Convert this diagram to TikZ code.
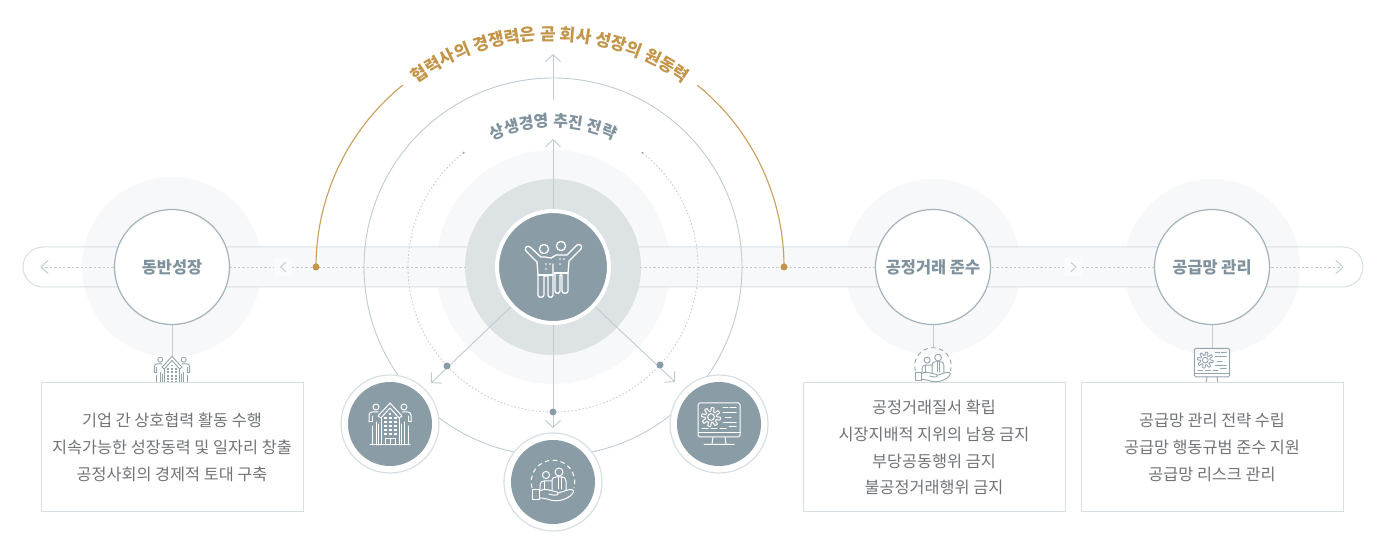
\documentclass[tikz,border=0pt]{standalone}
\usepackage{fontspec}
\setmainfont{Noto Sans CJK KR}
\usetikzlibrary{arrows.meta,decorations.text}
\definecolor{slate}{HTML}{8A9CA6}
\definecolor{ringa}{HTML}{F6F8F9}
\definecolor{ringb}{HTML}{DDE2E4}
\definecolor{bandline}{HTML}{D8DFE3}
\definecolor{thin}{HTML}{C0CCD2}
\definecolor{circ}{HTML}{A3B3BB}
\definecolor{gold}{HTML}{C49548}
\definecolor{goldline}{HTML}{C99F5A}
\definecolor{labelc}{HTML}{7F929D}
\definecolor{body}{HTML}{717477}
\definecolor{dashc}{HTML}{C3CCD1}
\definecolor{smallicon}{HTML}{93A4AE}
\tikzset{
  x=1pt,y=1pt,
  conn/.style={draw=thin,line width=0.9pt},
  arrowed/.style={conn,-{Straight Barb[length=7pt,width=15pt,line width=0.9pt]}},
  dashline/.style={draw=dashc,line width=0.8pt,dash pattern=on 2.4pt off 2pt},
  dotline/.style={draw=thin,line width=0.8pt,dash pattern=on 1.6pt off 2pt},
  dotn/.style={circle,fill=slate,inner sep=0pt,minimum size=7pt},
  golddot/.style={circle,fill=gold,inner sep=0pt,minimum size=7pt},
  topic/.style={circle,fill=white,draw=circ,line width=1.2pt,inner sep=0pt,minimum size=115pt,
    text=labelc,font=\bfseries\fontsize{16.4}{18}\selectfont},
  satout/.style={circle,fill=white,draw=bandline,line width=1.2pt,inner sep=0pt,minimum size=98pt},
  satin/.style={circle,fill=slate,inner sep=0pt,minimum size=84pt},
  infobox/.style={draw=bandline,line width=1pt,fill=white,minimum width=262pt,minimum height=129pt,
    inner sep=0pt,align=center,text=body,font=\fontsize{16.3}{26.7}\selectfont},
  chev/.style={draw=thin,line width=0.9pt},
  pics/people/.style={code={
    \begin{scope}[yscale=-1,line join=round,line cap=round]
      \draw (-9,-18) circle[radius=4.6];
      \draw (8,-21) circle[radius=4.6];
      \draw (-2,-9) -- (-8,-10) -- (-12,-10) -- (-23,-20) .. controls (-26,-22) and (-29,-19) .. (-27,-16)
        -- (-16,-5) -- (-15,8) -- (-15,28) .. controls (-15,31) and (-9,31) .. (-9,28) -- (-9,9) -- (-5,9) -- (-5,28)
        .. controls (-5,31) and (0,31) .. (0,28) -- (0,-3);
      \draw (-15,8) -- (0,8);
      \draw (-2,-9) -- (3,-12) -- (14,-12) -- (24,-22) .. controls (27,-24) and (30,-20) .. (28,-18)
        -- (16,-6) -- (15,6) -- (15,24) .. controls (15,27) and (9,27) .. (9,24) -- (9,8) -- (7,8) -- (7,24)
        .. controls (7,27) and (2,27) .. (2,24) -- (2,6);
      \draw (1,6) -- (15,6);
      \foreach \p in {(-7,-3),(-7,2),(7,-8),(7,-3),(-3,-3),(11,-8)} \fill \p circle[radius=0.8];
    \end{scope}}},
  pics/building/.style={code={
    \begin{scope}[yscale=-1,line join=round,line cap=round]
      \draw (-14,-17) circle[radius=3];
      \draw (14,-17) circle[radius=3];
      \draw (0,-21) -- (-12,-8) -- (-9,-6) -- (0,-16) -- (9,-6) -- (12,-8) -- cycle;
      \draw (-9,-6) -- (-9,21) (9,-6) -- (9,21);
      \draw (-21,-2) -- (-21,-9) .. controls (-21,-11) and (-19,-12) .. (-18,-12) -- (-12,-12);
      \draw (21,-2) -- (21,-9) .. controls (21,-11) and (19,-12) .. (18,-12) -- (12,-12);
      \draw (-21,-2) -- (-18,-2) -- (-18,-8) (21,-2) -- (18,-2) -- (18,-8);
      \draw (-18,2) -- (-18,21) (-14,-2) -- (-14,21) (-11.5,0) -- (-11.5,21);
      \draw (18,2) -- (18,21) (14,-2) -- (14,21) (11.5,0) -- (11.5,21);
      \draw (-20,21) -- (20,21);
      \draw (-5,21) -- (-5,15) -- (5,15) -- (5,21) (0,15) -- (0,21);
      \foreach \r in {-6,-2,2,6,10} \foreach \c in {-5,0,5}
        \fill (\c-1.5,\r-1.3) rectangle (\c+1.5,\r+1.3);
      \fill (-1,-11) rectangle (1,-9);
    \end{scope}}},
  pics/handcare/.style={code={
    \begin{scope}[yscale=-1,line join=round,line cap=round]
      \draw[line cap=butt,dash pattern=on 4.5pt off 3.5pt] (-21,6) arc[start angle=164,end angle=376,radius=21.8];
      \draw (-7,-7) circle[radius=3.6];
      \draw (6,-10) circle[radius=4];
      \draw (-13,7) -- (-13,3) .. controls (-13,0) and (-11,-1) .. (-9,-1) -- (-1,-1);
      \draw (-1,8) -- (-1,-2) .. controls (-1,-4) and (1,-5) .. (3,-5) -- (9,-5) .. controls (11,-5) and (13,-4) .. (13,-1) -- (13,8);
      \draw (-9,-1) -- (-9,7) (5,-5) -- (5,7) (8,-5) -- (8,7);
      \draw (-21,8) rectangle (-14,17.5);
      \draw (-14,9) .. controls (-8,6) and (-4,8) .. (0,9) .. controls (4,10) and (6,10) .. (5,12) .. controls (4,14) and (-1,13) .. (-4,12);
      \draw (5,11) .. controls (10,10) and (17,6) .. (20,8) .. controls (22,10) and (18,14) .. (14,16)
        .. controls (6,20) and (-1,19) .. (-6,17) .. controls (-9,16) and (-12,16) .. (-14,16);
    \end{scope}}},
  pics/monitor/.style={code={
    \begin{scope}[yscale=-1,line join=round,line cap=round]
      \draw[rounded corners=1.5pt] (-21,-21) rectangle (21,13);
      \draw (-21,9) -- (21,9);
      \draw (-6,13) -- (-7,20) (6,13) -- (7,20) (-15,20.5) -- (15,20.5);
      \draw[shift={(-8,-7)}] plot[samples=121,domain=0:360,smooth] (\x:{7.6+1.9*max(min(2.5*sin(8*\x),1),-1)}) -- cycle;
      \draw (-8,-7) circle[radius=3.4];
      \draw (4,-16) -- (9,-16) (11,-16) -- (17,-16);
      \draw (4,-11) -- (17,-11);
      \draw (6,-6) -- (12,-6);
      \draw (4,-1) -- (17,-1);
      \draw (-17,5) -- (-11,5) (-8,5) -- (-2,5) (1,5) -- (7,5);
      \draw (10,3) -- (17,3);
    \end{scope}}}
}
\begin{document}
\begin{tikzpicture}
\useasboundingbox (0,0) rectangle (1384,546);
\fill[white] (0,0) rectangle (1384,546);
\coordinate (ctr) at (553,279);
\coordinate (goldc) at (550,279);
% rings under the band
\fill[ringa] (ctr) circle[radius=117];
\fill[ringa] (172,279) circle[radius=90];
\fill[ringa] (933,279) circle[radius=88];
\fill[ringa] (1212,279) circle[radius=88];
% band
\fill[ringa] (172,259) rectangle (1212,299);
\draw[draw=bandline,line width=1pt,rounded corners=20pt] (23,259) rectangle (1363,299);
\fill[ringb] (ctr) circle[radius=88];
% big circles
\draw[conn] (ctr) circle[radius=189];
\draw[dotline] (ctr) ++(128:145) arc[start angle=128,end angle=412,radius=145];
\fill[slate] (ctr) ++(128:145) circle[radius=1];
\fill[slate] (ctr) ++(52:145) circle[radius=1];
% dashed axis
\coordinate (endL) at (41,279);
\coordinate (endR) at (1343,279);
\node[fill=white,fill opacity=.55,minimum size=18pt,inner sep=0pt] (stopL) at (283,279) {};
\node[fill=white,fill opacity=.55,minimum size=18pt,inner sep=0pt] (stopR) at (1073,279) {};
\coordinate (gapA) at (292,279);
\coordinate (gapB) at (466,279);
\coordinate (gapC) at (640,279);
\coordinate (gapD) at (1064,279);
\coordinate (gapE) at (1082,279);
\coordinate (gapF) at (274,279);
\draw[dashline] (endL) -- (172,279);
\draw[dashline] (172,279) -- (gapF);
\draw[dashline] (gapA) -- (gapB);
\draw[dashline] (gapC) -- (gapD);
\draw[dashline] (gapE) -- (endR);
\draw[chev,line cap=round] (48,285.5) -- (41,279) -- (48,272.5);
\draw[chev,line cap=round] (285.5,283.5) -- (280.5,279) -- (285.5,274.5);
\draw[chev,line cap=round] (1071,283.5) -- (1076,279) -- (1071,274.5);
\draw[chev,line cap=round] (1336,285.5) -- (1343,279) -- (1336,272.5);
% gold arc
\draw[draw=goldline,line width=1.1pt] (316,279) arc[start angle=180,end angle=129,radius=234];
\draw[draw=goldline,line width=1.1pt] (784,279) arc[start angle=0,end angle=51,radius=234];
\node[golddot] (gl) at (316,279) {};
\node[golddot] (gr) at (784,279) {};
\path[decorate,decoration={text along path,text align=center,
  text={|\bfseries\fontsize{17}{18}\selectfont\color{gold}|협력사의 경쟁력은 곧 회사 성장의 원동력}}]
  (goldc) ++(145:227) arc[start angle=145,end angle=35,radius=227];
\path[decorate,decoration={text along path,text align=center,
  text={|\bfseries\fontsize{16}{18}\selectfont\color{labelc}|상생경영 추진 전략}}]
  (ctr) ++(135:140) arc[start angle=135,end angle=45,radius=140];
% hub
\node[circle,fill=slate,draw=white,line width=4pt,inner sep=0pt,minimum size=112pt] (hub) at (ctr) {};
\pic[color=white,line width=1.3pt] at (hub.center) {people};
% satellites
\node[satout] (satLo) at (390,122) {};
\node[satout] (satBo) at (553,64) {};
\node[satout] (satRo) at (719,122) {};
\node[satin] (satL) at (satLo.center) {};
\node[satin] (satB) at (satBo.center) {};
\node[satin] (satR) at (satRo.center) {};
\pic[color=white,line width=1pt] at (satL.center) {building};
\pic[color=white,line width=1pt] at (satB.center) {handcare};
\pic[color=white,line width=1pt] at (satR.center) {monitor};
% arrows
\coordinate (tipUp) at (553,407);
\coordinate (farS) at (553,446);
\coordinate (farE) at (553,492);
\coordinate (tipL) at (431,163);
\coordinate (tipR) at (675,164);
\coordinate (tipB) at (553,118);
\draw[arrowed] (hub) -- (tipUp);
\draw[arrowed] (farS) -- (farE);
\draw[arrowed] (hub) -- (tipL);
\draw[arrowed] (hub) -- (tipR);
\draw[arrowed] (hub) -- (tipB);
\node[dotn] (dl) at (447,180) {};
\node[dotn] (db) at (553,134) {};
\node[dotn] (dr) at (660,181) {};
% topics
\node[topic] (t1) at (172,279) {동반성장};
\node[topic] (t2) at (933,279) {공정거래 준수};
\node[topic] (t3) at (1212,279) {공급망 관리};
\pic[color=smallicon,line width=.9pt,scale=.84] at (172,172) {building};
\pic[color=smallicon,line width=.9pt,scale=.84] at (933,180) {handcare};
\pic[color=smallicon,line width=.9pt,scale=.84] at (1212,180) {monitor};
\coordinate (s1) at (172,190);
\coordinate (s2) at (933,198);
\coordinate (s3) at (1212,198);
\draw[conn] (t1) -- (s1);
\draw[conn] (t2) -- (s2);
\draw[conn] (t3) -- (s3);
% boxes
\node[infobox] (b1) at (172,98.5) {기업 간 상호협력 활동 수행\\지속가능한 성장동력 및 일자리 창출\\공정사회의 경제적 토대 구축};
\node[infobox] (b2) at (934,98.5) {공정거래질서 확립\\시장지배적 지위의 남용 금지\\부당공동행위 금지\\불공정거래행위 금지};
\node[infobox] (b3) at (1212,98.5) {공급망 관리 전략 수립\\공급망 행동규범 준수 지원\\공급망 리스크 관리};
\end{tikzpicture}
\end{document}
